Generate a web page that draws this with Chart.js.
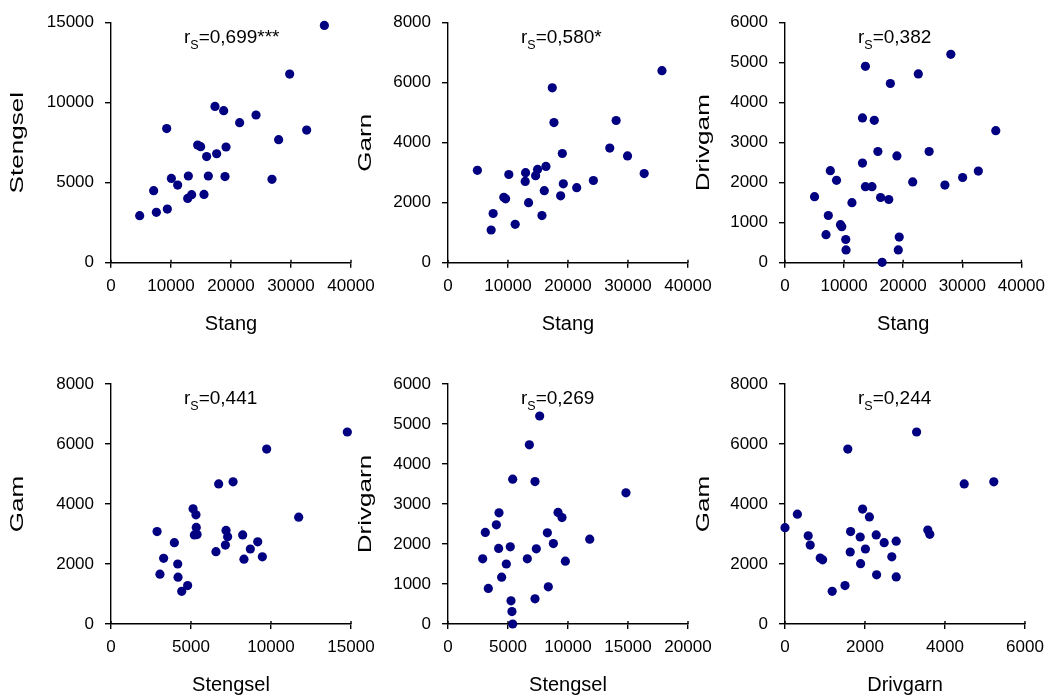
<!DOCTYPE html>
<html>
<head>
<meta charset="utf-8">
<script src="https://cdn.jsdelivr.net/npm/chart.js@4"></script>
<style>
  body { margin: 0; background: #fff; }
  #wrap { position: relative; width: 1053px; height: 695px; }
  #wrap canvas { position: absolute; left: 0; top: 0; }
</style>
</head>
<body>
<div id="wrap"></div>
<script>
// ===== DATA =====
// Stang vs Stengsel
const p1Stang    = [35560, 29780, 17330, 18780, 21440, 24170, 9280, 32610, 27940, 14440, 14940, 19170, 17610, 15940, 10060, 11110, 12890, 16220, 19000, 26830, 7110, 12780, 13440, 15500, 4780, 7560, 9390];
const p1Stengsel = [14830, 11790, 9770, 9500, 8750, 9230, 8380, 8290, 7690, 7350, 7250, 7230, 6810, 6630, 5270, 4850, 5420, 5420, 5380, 5210, 4500, 4020, 4250, 4270, 2940, 3150, 3350];

// Stang vs Garn
const p2Stang = [35660, 17380, 17660, 28020, 26960, 19050, 29920, 32700, 4900, 10140, 12930, 14930, 16320, 14600, 12870, 19220, 24230, 21450, 16050, 18770, 9300, 9600, 13430, 7520, 15660, 11200, 7190];
const p2Garn  = [6400, 5830, 4670, 4740, 3820, 3640, 3560, 2970, 3080, 2940, 3000, 3110, 3210, 2900, 2710, 2630, 2740, 2500, 2400, 2230, 2180, 2130, 2000, 1640, 1570, 1280, 1090];

// Stang vs Drivgarn
const p3Stang    = [28060, 13610, 22560, 17830, 13110, 15110, 35670, 15720, 24390, 18940, 13110, 7670, 8720, 21610, 32720, 30060, 27060, 13610, 14720, 5000, 16170, 17560, 11330, 7330, 9390, 9610, 6940, 10280, 19330, 10330, 19170, 16440];
const p3Drivgarn = [5210, 4910, 4720, 4480, 3620, 3560, 3300, 2780, 2780, 2670, 2490, 2300, 2060, 2020, 2290, 2130, 1940, 1900, 1900, 1650, 1630, 1580, 1500, 1180, 950, 900, 700, 580, 640, 320, 320, 10];

// Stengsel vs Garn
const p4Stengsel = [14770, 9730, 6730, 7630, 5130, 5310, 11730, 5330, 5210, 5380, 2880, 7190, 7290, 8230, 9170, 8710, 7150, 6560, 3960, 3290, 8310, 9460, 4170, 3060, 4190, 4790, 4420];
const p4Garn     = [6400, 5830, 4670, 4740, 3840, 3640, 3560, 3220, 2970, 2980, 3080, 3120, 2910, 2970, 2740, 2500, 2630, 2410, 2710, 2190, 2160, 2240, 2000, 1660, 1560, 1280, 1090];

// Stengsel vs Drivgarn
const p5Stengsel = [7640, 6780, 5390, 7250, 14830, 4250, 9170, 9500, 4030, 3110, 8280, 8780, 11810, 4220, 5190, 7360, 2890, 6610, 9780, 4860, 4470, 3360, 8360, 5250, 7250, 5330, 5390];
const p5Drivgarn = [5200, 4480, 3620, 3560, 3280, 2780, 2790, 2660, 2480, 2290, 2280, 2010, 2120, 1890, 1930, 1880, 1630, 1630, 1570, 1500, 1170, 890, 930, 580, 630, 310, 0];

// Drivgarn vs Garn
const p6Drivgarn = [3290, 1570, 4480, 5220, 1940, 2110, 310, 0, 3570, 3620, 1640, 580, 1880, 2280, 630, 2480, 2780, 2010, 1630, 880, 940, 2670, 1890, 2290, 2780, 1500, 1180];
const p6Garn     = [6400, 5830, 4670, 4740, 3830, 3570, 3660, 3210, 3130, 2990, 3080, 2940, 2900, 2970, 2630, 2710, 2760, 2500, 2400, 2200, 2140, 2240, 2010, 1640, 1570, 1280, 1090];

// correlation labels
const rValues = ['0,699', '0,580', '0,382', '0,441', '0,269', '0,244'];
const rStars  = ['***', '*', '', '', '', ''];

// axis titles (as they appear)
const xTitles = ['Stang', 'Stang', 'Stang', 'Stengsel', 'Stengsel', 'Drivgarn'];
const yTitles = ['Stengsel', 'Garn', 'Drivgam', 'Gam', 'Drivgarn', 'Gam'];

// axis ranges
const xMaxes = [40000, 40000, 40000, 15000, 20000, 6000];
const xSteps = [10000, 10000, 10000, 5000, 5000, 2000];
const yMaxes = [15000, 8000, 6000, 8000, 6000, 8000];
const ySteps = [5000, 2000, 1000, 2000, 1000, 2000];

// ===== LAYOUT =====
const W = 1053, H = 695;
const colLeft = [111, 448, 785];
const rowTop = [22.7, 384];
const areaW = 240, areaH = 240;
const yTitleX = [18.5, 366, 704];
const FONT = '"Liberation Sans", Arial, sans-serif';
const DOT = '#000080';

// titles, r_S label and inner half of the x ticks
const panelText = {
    id: 'panelText',
    afterDraw(chart, args, opts) {
        const ctx = chart.ctx;
        const a = chart.chartArea;
        const xs = chart.scales.x;
        ctx.save();

        ctx.strokeStyle = '#000';
        ctx.lineWidth = 1.4;
        xs.ticks.forEach(t => {
            const px = xs.getPixelForValue(t.value);
            ctx.beginPath();
            ctx.moveTo(px, a.bottom - 3);
            ctx.lineTo(px, a.bottom);
            ctx.stroke();
        });

        ctx.fillStyle = '#000';

        // x title
        ctx.font = '20px ' + FONT;
        ctx.textAlign = 'center';
        ctx.textBaseline = 'alphabetic';
        ctx.fillText(opts.xTitle, (a.left + a.right) / 2, a.bottom + 67);

        // y title (stretched along its length like the original)
        ctx.save();
        ctx.translate(opts.yTitleX, (a.top + a.bottom) / 2);
        ctx.rotate(-Math.PI / 2);
        ctx.scale(1.45, 1);
        ctx.font = '18px ' + FONT;
        ctx.textBaseline = 'middle';
        ctx.fillText(opts.yTitle, 0, 0);
        ctx.restore();

        // r_S=...
        let x = a.left + 73;
        const y = a.top + 20;
        ctx.textAlign = 'left';
        ctx.textBaseline = 'alphabetic';
        ctx.font = '19px ' + FONT;
        ctx.fillText('r', x, y);
        x += ctx.measureText('r').width;
        ctx.font = '12.5px ' + FONT;
        ctx.fillText('S', x, y + 6);
        x += ctx.measureText('S').width;
        ctx.font = '19px ' + FONT;
        ctx.fillText('=' + opts.r + opts.stars, x, y);

        ctx.restore();
    }
};

const panels = [
    [p1Stang, p1Stengsel],
    [p2Stang, p2Garn],
    [p3Stang, p3Drivgarn],
    [p4Stengsel, p4Garn],
    [p5Stengsel, p5Drivgarn],
    [p6Drivgarn, p6Garn]
];

const wrap = document.getElementById('wrap');

panels.forEach((pair, i) => {
    const col = i % 3, row = Math.floor(i / 3);
    const left = colLeft[col], top = rowTop[row];
    const canvas = document.createElement('canvas');
    canvas.width = W;
    canvas.height = H;
    wrap.appendChild(canvas);

    const points = pair[0].map((x, k) => ({ x: x, y: pair[1][k] }));

    new Chart(canvas, {
        type: 'scatter',
        data: {
            datasets: [{
                data: points,
                backgroundColor: DOT,
                borderWidth: 0,
                pointRadius: 4.6,
                pointHoverRadius: 4.6,
                clip: false
            }]
        },
        options: {
            responsive: false,
            animation: false,
            events: [],
            layout: {
                padding: {
                    left: left - 70,
                    right: W - (left + areaW),
                    top: top,
                    bottom: H - (top + areaH) - 40
                }
            },
            plugins: {
                legend: { display: false },
                tooltip: { enabled: false },
                panelText: {
                    xTitle: xTitles[i],
                    yTitle: yTitles[i],
                    yTitleX: yTitleX[col],
                    r: rValues[i],
                    stars: rStars[i]
                }
            },
            scales: {
                x: {
                    type: 'linear',
                    min: 0,
                    max: xMaxes[i],
                    afterFit: s => { s.height = 40; },
                    ticks: {
                        stepSize: xSteps[i],
                        autoSkip: false,
                        maxRotation: 0,
                        color: '#000',
                        padding: 8,
                        font: { family: FONT, size: 17 },
                        callback: v => String(v)
                    },
                    grid: { drawOnChartArea: false, color: '#000', tickLength: 5, lineWidth: 1.4 },
                    border: { color: '#000', width: 1.4 }
                },
                y: {
                    min: 0,
                    max: yMaxes[i],
                    afterFit: s => { s.width = 70; },
                    ticks: {
                        stepSize: ySteps[i],
                        autoSkip: false,
                        color: '#000',
                        padding: 11,
                        font: { family: FONT, size: 17 },
                        callback: v => String(v)
                    },
                    grid: { drawOnChartArea: false, color: '#000', tickLength: 6, lineWidth: 1.4 },
                    border: { color: '#000', width: 1.4 }
                }
            }
        },
        plugins: [panelText]
    });
});
</script>
</body>
</html>
